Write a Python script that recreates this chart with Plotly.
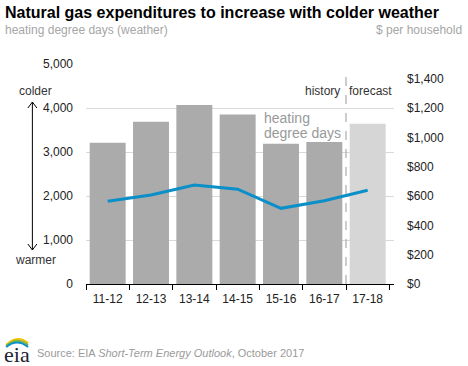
import plotly.graph_objects as go

categories = ["11-12", "12-13", "13-14", "14-15", "15-16", "16-17", "17-18"]
hdd_values = [3210, 3690, 4070, 3850, 3190, 3230, 3640]
expend_values = [564, 607, 675, 646, 516, 568, 639]
bar_colors = ["#ababab"] * 6 + ["#d6d6d6"]
left_ticks = [0, 1000, 2000, 3000, 4000, 5000]
right_ticks = [0, 200, 400, 600, 800, 1000, 1200, 1400]
right_labels = ["$0", "$200", "$400", "$600", "$800", "$1,000", "$1,200", "$1,400"]

W, H = 468, 366
L, R, T, B = 86, 394.5, 64, 284
FONT = "Liberation Sans, Arial, sans-serif"


def px(x):
    return (x - L) / (R - L)


def py(y):
    return (B - y) / (B - T)


fig = go.Figure()
fig.add_trace(go.Bar(x=categories, y=hdd_values, marker=dict(color=bar_colors, line=dict(width=0)),
                     hoverinfo="skip", showlegend=False))
fig.add_trace(go.Scatter(x=categories, y=expend_values, yaxis="y2", mode="lines",
                         line=dict(color="#0a8fc9", width=3), showlegend=False))

shapes = []
# history / forecast divider
shapes.append(dict(type="line", xref="x", yref="paper", x0=5.5, x1=5.5, y0=0, y1=py(72),
                   line=dict(color="#999999", width=1, dash="dash")))
# colder/warmer arrow
ax = px(32.3)
shapes.append(dict(type="line", xref="paper", yref="paper", x0=ax, x1=ax, y0=py(102), y1=py(250),
                   line=dict(color="#000000", width=1)))
shapes.append(dict(type="path", xref="paper", yref="paper",
                   path=f"M {px(27.8)} {py(108)} L {ax} {py(102)} L {px(36.8)} {py(108)}",
                   line=dict(color="#000000", width=1)))
shapes.append(dict(type="path", xref="paper", yref="paper",
                   path=f"M {px(27.8)} {py(244)} L {ax} {py(250)} L {px(36.8)} {py(244)}",
                   line=dict(color="#000000", width=1)))
# eia logo arcs
for col, (y0, y1, y2) in zip(["#f5c400", "#7ab648", "#0a8fc9"], [(345, 337, 343), (346, 339, 345), (347, 341, 347)]):
    shapes.append(dict(type="path", xref="paper", yref="paper",
                       path=f"M {px(6)} {py(y0)} Q {px(17)} {py(y1 - 3)} {px(28)} {py(y2)}",
                       line=dict(color=col, width=2)))

annotations = [
    dict(text="<b>Natural gas expenditures to increase with colder weather</b>", xref="paper", yref="paper",
         x=px(3), y=py(12), xanchor="left", yanchor="middle", showarrow=False,
         font=dict(family=FONT, size=16, color="#000000")),
    dict(text="heating degree days (weather)", xref="paper", yref="paper",
         x=px(3), y=py(30), xanchor="left", yanchor="middle", showarrow=False,
         font=dict(family=FONT, size=12, color="#a6a6a6")),
    dict(text="$ per household", xref="paper", yref="paper",
         x=px(465), y=py(30), xanchor="right", yanchor="middle", showarrow=False,
         font=dict(family=FONT, size=12, color="#a6a6a6")),
    dict(text="history", xref="x", yref="paper", x=5.5, xshift=-4, y=py(91), xanchor="right",
         yanchor="middle", showarrow=False, font=dict(family=FONT, size=12, color="#333333")),
    dict(text="forecast", xref="x", yref="paper", x=5.5, xshift=1, y=py(91), xanchor="left",
         yanchor="middle", showarrow=False, font=dict(family=FONT, size=12, color="#333333")),
    dict(text="heating", xref="paper", yref="paper", x=px(262), y=py(118), xanchor="left",
         yanchor="middle", showarrow=False, font=dict(family=FONT, size=14, color="#999999")),
    dict(text="degree days", xref="paper", yref="paper", x=px(262), y=py(133), xanchor="left",
         yanchor="middle", showarrow=False, font=dict(family=FONT, size=14, color="#999999")),
    dict(text="colder", xref="paper", yref="paper", x=px(35.5), y=py(91), xanchor="center",
         yanchor="middle", showarrow=False, font=dict(family=FONT, size=12, color="#333333")),
    dict(text="warmer", xref="paper", yref="paper", x=px(35), y=py(260), xanchor="center",
         yanchor="middle", showarrow=False, font=dict(family=FONT, size=12, color="#333333")),
    dict(text="eia", xref="paper", yref="paper", x=px(2), y=py(354), xanchor="left",
         yanchor="middle", showarrow=False,
         font=dict(family="Liberation Serif, Times New Roman, serif", size=22, color="#222233")),
    dict(text="Source: EIA <i>Short-Term Energy Outlook</i>, October 2017", xref="paper", yref="paper",
         x=px(35), y=py(353), xanchor="left", yanchor="middle", showarrow=False,
         font=dict(family=FONT, size=11, color="#9a9a9a")),
]

fig.update_layout(
    width=W, height=H,
    margin=dict(l=L, r=W - R, t=T, b=H - B, pad=0),
    paper_bgcolor="white", plot_bgcolor="white",
    font=dict(family=FONT, size=12, color="#333333"),
    bargap=0.17,
    shapes=shapes,
    annotations=annotations,
    xaxis=dict(type="category", showgrid=False, showline=True, linecolor="#000000", linewidth=1,
               ticks="outside", tickson="boundaries", ticklen=5, tickcolor="#000000",
               ticklabelstandoff=4,
               tickfont=dict(family=FONT, size=12, color="#222222"), fixedrange=True),
    yaxis=dict(range=[0, 5000], tickvals=left_ticks, tickformat=",", showgrid=True,
               gridcolor="#d9d9d9", gridwidth=1, zeroline=False, showline=False, ticks="",
               ticklabelstandoff=12, tickfont=dict(family=FONT, size=12, color="#222222")),
    yaxis2=dict(range=[0, 1500], tickvals=right_ticks, ticktext=right_labels,
                overlaying="y", side="right", showgrid=False, zeroline=False, showline=False,
                ticks="", ticklabelstandoff=12, tickfont=dict(family=FONT, size=12, color="#222222")),
)

fig.write_html("out.html", config={"displayModeBar": False},
               post_script="document.body.style.margin='0px';document.body.style.overflow='hidden';")
